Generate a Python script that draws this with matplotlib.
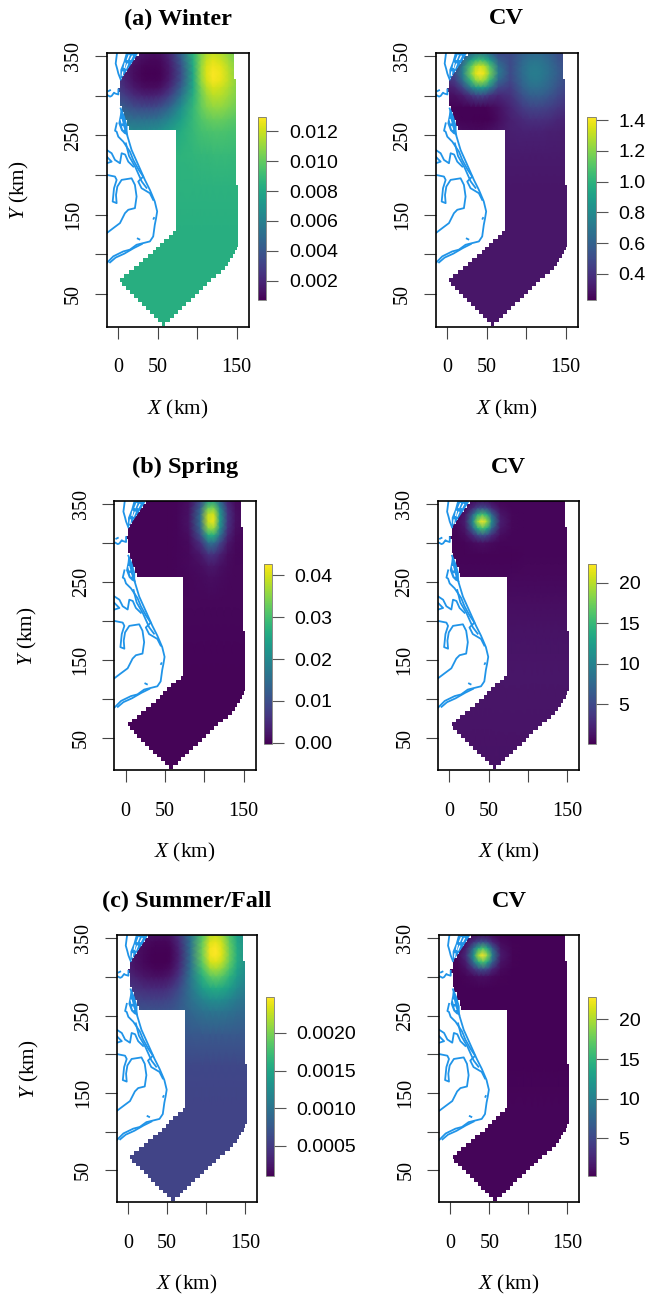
import numpy as np
import matplotlib
matplotlib.use("Agg")
import matplotlib.pyplot as plt
from matplotlib.path import Path
from matplotlib.patches import PathPatch

plt.rcParams['font.family'] = ['Liberation Serif', 'DejaVu Serif']
plt.rcParams['mathtext.fontset'] = 'custom'
plt.rcParams['mathtext.rm'] = 'Liberation Serif'
plt.rcParams['mathtext.it'] = 'Liberation Serif:italic'

W, H = 651, 1295

# grid the values were read on (km)
grid_x = [-5, 10, 20, 30, 36, 42, 48, 54, 65, 80, 95, 105, 112, 120, 130, 140, 155]
grid_y = [355, 345, 337, 328, 319, 310, 300, 285, 270, 255, 225, 185, 130, 70, 10]

winter = [  # x 0.001
    [3.0, 2.2, 1.8, 1.4, 1.3, 1.2, 1.2, 1.3, 2.0, 4.6, 8.6, 10.6, 11.4, 11.8, 11.5, 10.8, 9.8],
    [2.8, 1.9, 1.4, 1.1, 1.0, 0.9, 0.9, 1.0, 1.7, 4.2, 8.4, 10.8, 11.9, 12.4, 12.0, 11.2, 10.0],
    [2.7, 1.7, 1.2, 0.9, 0.8, 0.8, 0.8, 0.9, 1.5, 3.8, 8.2, 11.0, 12.2, 12.7, 12.4, 11.5, 10.2],
    [2.7, 1.6, 1.1, 0.8, 0.7, 0.7, 0.7, 0.8, 1.4, 3.6, 8.0, 11.0, 12.3, 12.9, 12.6, 11.7, 10.3],
    [2.9, 1.8, 1.2, 0.9, 0.8, 0.8, 0.8, 0.9, 1.6, 3.8, 8.0, 10.9, 12.1, 12.8, 12.5, 11.7, 10.4],
    [3.2, 2.1, 1.5, 1.2, 1.1, 1.1, 1.1, 1.3, 2.1, 4.5, 8.0, 10.5, 11.6, 12.2, 12.0, 11.4, 10.3],
    [3.7, 2.8, 2.2, 1.9, 1.8, 1.8, 1.9, 2.1, 3.0, 5.4, 8.4, 10.2, 11.1, 11.7, 11.6, 11.1, 10.3],
    [4.7, 4.0, 3.6, 3.4, 3.4, 3.4, 3.5, 3.8, 4.7, 6.8, 8.8, 10.0, 10.6, 10.9, 10.9, 10.6, 10.0],
    [5.7, 5.3, 5.1, 5.1, 5.1, 5.2, 5.3, 5.6, 6.3, 7.6, 8.9, 9.6, 9.9, 10.1, 10.1, 9.9, 9.6],
    [6.8, 6.6, 6.5, 6.5, 6.6, 6.7, 6.8, 7.0, 7.5, 8.3, 8.9, 9.3, 9.4, 9.5, 9.5, 9.4, 9.3],
    [8.2, 8.2, 8.2, 8.2, 8.3, 8.3, 8.3, 8.4, 8.5, 8.6, 8.7, 8.8, 8.8, 8.9, 8.9, 8.9, 8.8],
    [8.5, 8.5, 8.5, 8.5, 8.5, 8.5, 8.5, 8.5, 8.5, 8.5, 8.5, 8.5, 8.5, 8.5, 8.5, 8.5, 8.5],
    [8.4, 8.4, 8.4, 8.4, 8.4, 8.4, 8.4, 8.4, 8.4, 8.4, 8.4, 8.4, 8.4, 8.4, 8.4, 8.4, 8.4],
    [8.4, 8.4, 8.4, 8.4, 8.4, 8.4, 8.4, 8.4, 8.4, 8.4, 8.4, 8.4, 8.4, 8.4, 8.4, 8.4, 8.4],
    [8.4, 8.4, 8.4, 8.4, 8.4, 8.4, 8.4, 8.4, 8.4, 8.4, 8.4, 8.4, 8.4, 8.4, 8.4, 8.4, 8.4],
]
winter_cv = [
    [.32, .38, .46, .60, .66, .68, .66, .60, .48, .50, .58, .62, .63, .62, .58, .52, .45],
    [.36, .44, .60, .88, 1.00, 1.05, 1.00, .88, .58, .50, .62, .68, .69, .67, .62, .55, .47],
    [.38, .48, .72, 1.10, 1.28, 1.34, 1.28, 1.10, .68, .50, .64, .71, .72, .70, .64, .57, .48],
    [.40, .50, .76, 1.18, 1.36, 1.42, 1.36, 1.18, .72, .50, .64, .72, .73, .71, .65, .58, .48],
    [.36, .44, .66, 1.02, 1.20, 1.26, 1.20, 1.02, .62, .48, .62, .70, .71, .69, .63, .56, .47],
    [.30, .35, .48, .72, .84, .88, .84, .72, .48, .44, .58, .65, .66, .64, .60, .53, .45],
    [.27, .28, .32, .40, .45, .47, .45, .40, .36, .40, .52, .58, .59, .58, .54, .49, .42],
    [.25, .24, .24, .24, .24, .24, .24, .25, .28, .35, .44, .47, .48, .47, .45, .42, .38],
    [.27, .25, .24, .24, .23, .23, .23, .24, .27, .33, .37, .39, .39, .39, .38, .36, .34],
    [.30, .28, .27, .26, .26, .26, .27, .28, .30, .33, .34, .34, .34, .34, .33, .33, .32],
    [.31, .31, .31, .31, .31, .31, .31, .31, .31, .31, .31, .31, .31, .31, .31, .31, .31],
    [.30, .30, .30, .30, .30, .30, .30, .30, .30, .30, .30, .30, .30, .30, .30, .30, .30],
    [.30, .30, .30, .30, .30, .30, .30, .30, .30, .30, .30, .30, .30, .30, .30, .30, .30],
    [.30, .30, .30, .30, .30, .30, .30, .30, .30, .30, .30, .30, .30, .30, .30, .30, .30],
    [.30, .30, .30, .30, .30, .30, .30, .30, .30, .30, .30, .30, .30, .30, .30, .30, .30],
]
spring = [  # x 0.001
    [.2, .2, .2, .2, .2, .2, .2, .2, .4, 1.2, 8.5, 22, 23, 13.5, 3.8, 1.0, .4],
    [.2, .2, .2, .2, .2, .2, .2, .2, .4, 1.6, 12.6, 33, 34, 20, 5.5, 1.3, .4],
    [.2, .2, .2, .2, .2, .2, .2, .2, .4, 1.8, 14.7, 38.6, 40, 23, 6.4, 1.5, .5],
    [.2, .2, .2, .2, .2, .2, .2, .2, .4, 1.9, 15, 39.5, 41.5, 23.6, 6.5, 1.5, .5],
    [.2, .2, .2, .2, .2, .2, .2, .2, .4, 1.7, 13.3, 35, 36, 21, 5.8, 1.4, .5],
    [.2, .2, .2, .2, .2, .2, .2, .2, .4, 1.3, 10, 25.8, 26.6, 15.4, 4.3, 1.1, .4],
    [.2, .2, .2, .2, .2, .2, .2, .2, .4, .9, 5.6, 14.7, 15, 8.8, 2.6, .8, .4],
    [.2, .2, .2, .2, .2, .2, .2, .3, .4, .8, 2.4, 5.5, 5.7, 3.5, 1.3, .6, .4],
    [.2, .2, .2, .2, .2, .2, .3, .3, .4, .7, 1.3, 2.3, 2.4, 1.6, .9, .6, .5],
    [.3, .3, .3, .3, .3, .3, .3, .3, .4, .6, .9, 1.2, 1.3, 1.1, .8, .6, .5],
    [.5, .5, .5, .5, .5, .5, .5, .5, .5, .5, .5, .5, .5, .5, .5, .5, .5],
    [.4, .4, .4, .4, .4, .4, .4, .4, .4, .4, .4, .4, .4, .4, .4, .4, .4],
    [.3, .3, .3, .3, .3, .3, .3, .3, .3, .3, .3, .3, .3, .3, .3, .3, .3],
    [.3, .3, .3, .3, .3, .3, .3, .3, .3, .3, .3, .3, .3, .3, .3, .3, .3],
    [.3, .3, .3, .3, .3, .3, .3, .3, .3, .3, .3, .3, .3, .3, .3, .3, .3],
]
spring_cv = [
    [.3, .3, .4, .7, .9, 1.0, .9, .7, .4, .4, .4, .4, .4, .4, .4, .4, .4],
    [.3, .4, .9, 2.8, 4.8, 5.6, 4.8, 2.8, .9, .4, .4, .4, .4, .4, .4, .4, .4],
    [.3, .5, 1.5, 7.5, 13.5, 15.8, 13.5, 7.5, 1.5, .5, .4, .4, .4, .4, .4, .4, .4],
    [.3, .7, 2.0, 11, 19, 22.3, 19, 11, 2.0, .5, .4, .4, .4, .4, .4, .4, .4],
    [.3, .5, 1.5, 7.5, 13.5, 15.8, 13.5, 7.5, 1.5, .5, .4, .4, .4, .4, .4, .4, .4],
    [.3, .4, .9, 2.8, 4.8, 5.6, 4.8, 2.8, .9, .4, .4, .4, .4, .4, .4, .4, .4],
    [.3, .3, .4, .7, .9, 1.0, .9, .7, .4, .4, .4, .4, .4, .4, .4, .4, .4],
    [.3, .3, .3, .3, .3, .3, .3, .3, .3, .3, .4, .4, .4, .4, .4, .4, .4],
    [.4, .4, .4, .4, .4, .4, .4, .4, .4, .4, .5, .5, .5, .5, .5, .5, .5],
    [.5, .5, .5, .5, .5, .5, .5, .5, .5, .6, .6, .6, .6, .6, .6, .6, .6],
    [.9, .9, .9, .9, .9, .9, .9, .9, .9, .9, .9, .9, .9, .9, .9, .9, .9],
    [1.2, 1.2, 1.2, 1.2, 1.2, 1.2, 1.2, 1.2, 1.2, 1.2, 1.2, 1.2, 1.2, 1.2, 1.2, 1.2, 1.2],
    [1.4, 1.4, 1.4, 1.4, 1.4, 1.4, 1.4, 1.4, 1.4, 1.4, 1.4, 1.4, 1.4, 1.4, 1.4, 1.4, 1.4],
    [1.3, 1.3, 1.3, 1.3, 1.3, 1.3, 1.3, 1.3, 1.3, 1.3, 1.3, 1.3, 1.3, 1.3, 1.3, 1.3, 1.3],
    [1.2, 1.2, 1.2, 1.2, 1.2, 1.2, 1.2, 1.2, 1.2, 1.2, 1.2, 1.2, 1.2, 1.2, 1.2, 1.2, 1.2],
]
summer = [  # x 0.001
    [.34, .28, .22, .2, .2, .2, .2, .22, .42, 1.0, 1.8, 2.2, 2.27, 2.15, 1.8, 1.45, 1.15],
    [.33, .23, .17, .14, .13, .13, .13, .16, .36, .98, 1.9, 2.35, 2.4, 2.28, 1.88, 1.5, 1.18],
    [.32, .21, .15, .12, .11, .11, .11, .13, .32, .96, 1.95, 2.42, 2.47, 2.34, 1.93, 1.53, 1.2],
    [.32, .2, .14, .11, .1, .1, .1, .12, .3, .95, 1.95, 2.42, 2.47, 2.35, 1.95, 1.55, 1.2],
    [.32, .2, .14, .11, .1, .1, .1, .13, .32, .95, 1.88, 2.3, 2.35, 2.25, 1.9, 1.53, 1.2],
    [.34, .22, .17, .14, .13, .13, .14, .17, .37, .98, 1.75, 2.1, 2.15, 2.06, 1.78, 1.47, 1.18],
    [.4, .3, .24, .21, .2, .2, .22, .26, .46, 1.02, 1.6, 1.85, 1.9, 1.84, 1.62, 1.38, 1.12],
    [.5, .44, .4, .38, .38, .38, .4, .45, .62, 1.0, 1.38, 1.52, 1.55, 1.52, 1.4, 1.22, 1.05],
    [.6, .58, .56, .55, .55, .55, .57, .6, .72, .95, 1.14, 1.23, 1.25, 1.23, 1.16, 1.06, .96],
    [.72, .71, .7, .7, .7, .7, .71, .72, .78, .88, .97, 1.01, 1.02, 1.01, .98, .93, .88],
    [.7, .7, .7, .7, .7, .7, .7, .7, .72, .74, .75, .75, .75, .75, .75, .75, .74],
    [.6, .6, .6, .6, .6, .6, .6, .6, .6, .6, .6, .6, .6, .6, .6, .6, .6],
    [.57, .57, .57, .57, .57, .57, .57, .57, .57, .57, .57, .57, .57, .57, .57, .57, .57],
    [.57, .57, .57, .57, .57, .57, .57, .57, .57, .57, .57, .57, .57, .57, .57, .57, .57],
    [.57, .57, .57, .57, .57, .57, .57, .57, .57, .57, .57, .57, .57, .57, .57, .57, .57],
]
summer_cv = [
    [.3, .3, .5, .8, 1.0, 1.0, .9, .7, .4, .3, .3, .3, .3, .3, .3, .3, .3],
    [.3, .4, 1.1, 3.4, 5.2, 5.8, 4.8, 2.6, .8, .3, .3, .3, .3, .3, .3, .3, .3],
    [.3, .6, 2.0, 8.5, 14, 16.2, 13, 7, 1.3, .4, .3, .3, .3, .3, .3, .3, .3],
    [.4, .8, 3.0, 12, 20, 22.8, 18.5, 10, 1.8, .4, .3, .3, .3, .3, .3, .3, .3],
    [.3, .6, 2.0, 8.5, 14, 16.2, 13, 7, 1.3, .4, .3, .3, .3, .3, .3, .3, .3],
    [.3, .4, 1.1, 3.4, 5.2, 5.8, 4.8, 2.6, .8, .3, .3, .3, .3, .3, .3, .3, .3],
    [.3, .3, .5, .8, 1.0, 1.0, .9, .7, .4, .3, .3, .3, .3, .3, .3, .3, .3],
    [.3, .3, .3, .3, .3, .3, .3, .3, .3, .3, .3, .3, .3, .3, .3, .3, .3],
    [.3, .3, .3, .3, .3, .3, .3, .3, .3, .3, .3, .3, .3, .3, .3, .3, .3],
    [.3, .3, .3, .3, .3, .3, .3, .3, .3, .3, .3, .3, .3, .3, .3, .3, .3],
    [.3, .3, .3, .3, .3, .3, .3, .3, .3, .3, .3, .3, .3, .3, .3, .3, .3],
    [.3, .3, .3, .3, .3, .3, .3, .3, .3, .3, .3, .3, .3, .3, .3, .3, .3],
    [.5, .5, .5, .5, .5, .5, .5, .5, .5, .5, .5, .5, .5, .5, .5, .5, .5],
    [.5, .5, .5, .5, .5, .5, .5, .5, .5, .5, .5, .5, .5, .5, .5, .5, .5],
    [.5, .5, .5, .5, .5, .5, .5, .5, .5, .5, .5, .5, .5, .5, .5, .5, .5],
]

# study area as rows: lower edge of the row, left and right limit
row_y = [10, 15, 20, 25, 30, 35, 40, 45, 50, 55, 60, 65, 70, 75, 80, 85, 90, 95, 100, 105,
         110, 115, 120, 125, 130, 135, 187, 257, 262, 270, 280, 287, 305, 310, 321, 325, 330,
         335, 340, 345, 350, 356]
row_left = [55, 50, 45, 40, 35, 30, 25, 20, 15, 10, 5, 3, 8, 14, 20, 26, 32, 38, 44, 48,
            53, 58, 64, 70, 73, 73, 73, 14, 12, 8, 5, 3, 0, 3, 5, 8,
            11, 14, 18, 22, 26]
row_right = [60, 66, 71, 76, 81, 86, 92, 97, 102, 107, 113, 118, 124, 130, 135, 139, 142, 145, 148, 150,
             152, 152, 152, 152, 152, 152, 149.7, 149.7, 149.7, 149.7, 149.7, 149.7, 149.7, 149.7, 147, 147, 147,
             147, 147, 147, 147]

# coastline traces (km)
coast_lines = [
    [(-1.2, 354), (-1.6, 351), (-2.9, 340.7), (-1, 334), (.5, 328), (3.4, 320.6)],
    [(-13.4, 300.9), (-10, 299), (-7.9, 300), (-5, 304), (-3.7, 303), (.5, 301.7), (.5, 308)],
    [(-12, 306), (-10, 307)],
    [(3.4, 284.1), (7.6, 273.6), (10.9, 262), (10.9, 252.7), (17.2, 231.7), (25.6, 212.9), (34, 194), (40.3, 181.4),
     (46.5, 166.7), (49.5, 154.2), (48, 145), (46.5, 137.4), (44.5, 122.7), (40.3, 116.4), (23.5, 112.2),
     (15, 106), (6.7, 103.8), (-5.9, 97.6), (-14.2, 89.2)],
    [(30, 113), (20, 108), (8, 101), (-3, 96), (-10, 90)],
    [(-1.6, 265.3), (-3.7, 256), (-1.7, 254.8), (.4, 248.5), (6.7, 242.2), (15.1, 229.6), (19.3, 219.2), (26, 207),
     (31.9, 198.2), (25.6, 191.9), (29.8, 183.5), (40.3, 177.2), (44.5, 168.8)],
    [(10, 240), (14, 224), (22, 210), (30, 192), (36, 184)],
    [(-14.2, 231.7), (-8, 227.6), (-3.8, 219.2), (2.5, 215), (4.6, 227.6), (9, 226), (13, 217), (19.3, 210.8)],
    [(-14.2, 223.3), (-12, 221), (-8, 217), (-14.2, 215)],
    [(-14.2, 200.3), (-3.8, 198.2), (-1.7, 194), (-5, 183.5), (-6.7, 166.7), (-1.7, 164.7), (-2.5, 175),
     (-.8, 185.6), (4.6, 194), (17.2, 196), (21.4, 187.7), (23.5, 173), (21.4, 158.4), (13, 156.3), (8.8, 152),
     (2.5, 139.5), (-5.9, 133.2), (-14.2, 126.9)],
    [(45, 145), (45.5, 146)],
    [(25, 120), (27, 119)],
]
coast_fills = [
    [(3.4, 284.1), (7.6, 273.6), (11, 258), (13, 250), (8, 252), (4, 256), (.5, 265.3), (2.5, 275.7)],
    [(10, 354), (25.6, 354), (17.2, 340.7), (8.8, 328.2), (3, 320), (3, 333), (7, 343)],
]
coast_gaps = [
    [(14, 351), (12, 346)],
    [(18, 350), (16, 346)],
    [(9, 341), (8, 336)],
    [(12, 340), (10, 335)],
    [(6, 330), (5.5, 326)],
    [(4, 270), (5, 266)],
    [(6, 261), (7, 258)],
]

x_ticks = [0, 50, 100, 150]
x_tick_labels = ['0', '50', '', '150']
y_ticks = [50, 100, 150, 200, 250, 300, 350]
y_tick_labels = ['50', '', '150', '', '250', '', '350']

titles = ['(a) Winter', 'CV', '(b) Spring', 'CV', '(c) Summer/Fall', 'CV']
fields = [winter, winter_cv, spring, spring_cv, summer, summer_cv]
scale = [1e-3, 1, 1e-3, 1, 1e-3, 1]
limits = [(.00068, .01296), (.231, 1.42), (-.0002, .0427), (.12, 22.35), (.000093, .002475), (.19, 22.8)]
cbar_ticks = [[.002, .004, .006, .008, .010, .012],
              [.4, .6, .8, 1.0, 1.2, 1.4],
              [0, .01, .02, .03, .04],
              [5, 10, 15, 20],
              [.0005, .001, .0015, .002],
              [5, 10, 15, 20]]
cbar_labels = [['0.002', '0.004', '0.006', '0.008', '0.010', '0.012'],
               ['0.4', '0.6', '0.8', '1.0', '1.2', '1.4'],
               ['0.00', '0.01', '0.02', '0.03', '0.04'],
               ['5', '10', '15', '20'],
               ['0.0005', '0.0010', '0.0015', '0.0020'],
               ['5', '10', '15', '20']]

# pixel boxes: left, right, top, bottom
boxes = [(106.5, 249, 53, 327), (435.5, 578, 53, 327),
         (114.3, 255.7, 501.3, 770.3), (438, 579.3, 501.3, 770.3),
         (116.7, 257.3, 935.3, 1202.3), (439, 579.3, 935.3, 1202.3)]
cbar_boxes = [(258.3, 266.3, 117, 300.3), (587.3, 595.7, 117, 300),
              (264, 271.7, 564, 743.7), (587.7, 595.7, 564, 743.7),
              (266, 273.7, 997.3, 1176.3), (587.7, 595.7, 997.3, 1176.3)]


def add_box(fig, box):
    l, r, t, b = box
    return fig.add_axes([l / W, 1 - b / H, (r - l) / W, (b - t) / H])


verts = []
for i in range(len(row_left)):
    verts += [(row_right[i], row_y[i]), (row_right[i], row_y[i + 1])]
for i in range(len(row_left) - 1, -1, -1):
    verts += [(row_left[i], row_y[i + 1]), (row_left[i], row_y[i])]
verts.append(verts[0])
area = Path(verts)

fig = plt.figure(figsize=(W / 100, H / 100), dpi=100)

for i in range(6):
    ax = add_box(fig, boxes[i])
    z = np.array(fields[i], dtype=float) * scale[i]
    mesh = ax.pcolormesh(grid_x, grid_y, z, shading='gouraud', cmap='viridis',
                         vmin=limits[i][0], vmax=limits[i][1])
    clip = PathPatch(area, transform=ax.transData, fc='none', ec='none')
    ax.add_patch(clip)
    mesh.set_clip_path(clip)
    for f in coast_fills:
        ax.fill(*zip(*f), color='#2094e8', lw=0)
    for c in coast_lines:
        ax.plot(*zip(*c), color='#2094e8', lw=1.3)
    for g in coast_gaps:
        ax.plot(*zip(*g), color='white', lw=0.9)
    ax.set_xlim(-14.5, 165.5)
    ax.set_ylim(8.5, 354)
    for s in ax.spines.values():
        s.set_linewidth(1.2)
    ax.set_xticks(x_ticks)
    ax.set_xticklabels(x_tick_labels, fontsize=14.5)
    ax.set_yticks(y_ticks)
    ax.set_yticklabels(y_tick_labels, fontsize=14.5, rotation=90, va='center')
    ax.tick_params(axis='both', length=8.5, width=0.8, color='#444444')
    ax.tick_params(axis='x', pad=14)
    ax.tick_params(axis='y', pad=8.5)

    l, r, t, b = boxes[i]
    mid_x = (l + r) / 2
    mid_y = (t + b) / 2
    fig.text(mid_x / W, 1 - (t - 34) / H, titles[i], fontsize=17.5, fontweight='bold',
             ha='center', va='center')
    fig.text(mid_x / W, 1 - (b + 82) / H, r'$\mathit{X}$ (km)', fontsize=15.3, ha='center', va='center')
    if i % 2 == 0:
        fig.text((l - 87) / W, 1 - mid_y / H, r'$\mathit{Y}$ (km)', fontsize=15.3, ha='center', va='center',
                 rotation=90)

    cax = add_box(fig, cbar_boxes[i])
    cb = fig.colorbar(mesh, cax=cax, ticks=cbar_ticks[i])
    cb.ax.set_yticklabels(cbar_labels[i], fontsize=14, family='Liberation Sans')
    cb.ax.tick_params(length=8.5, width=0.8, color='#555555', pad=8)
    cb.outline.set_linewidth(0.6)
    cb.outline.set_edgecolor('#777777')

fig.savefig('out.png', dpi=100)
